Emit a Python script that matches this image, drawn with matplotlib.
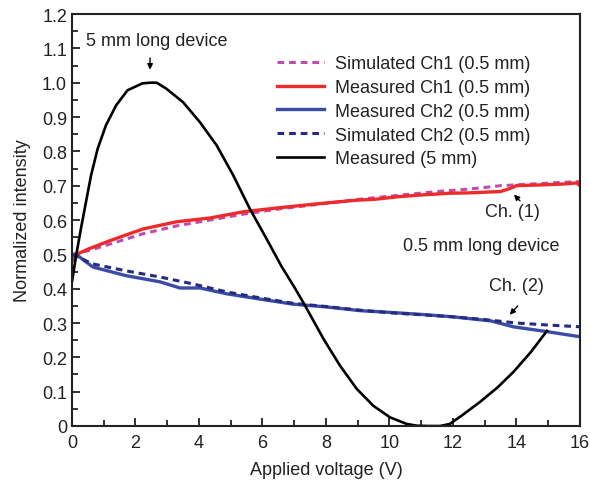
import matplotlib
matplotlib.use("Agg")
import matplotlib.pyplot as plt
from matplotlib.ticker import MultipleLocator

plt.rcParams['font.family'] = ['Liberation Sans', 'DejaVu Sans']

# Measured 5 mm device (black)
x_5mm = [0, 0.13, 0.28, 0.44, 0.6, 0.81, 1.07, 1.39, 1.75, 2.22, 2.46, 2.67, 2.98, 3.5, 4.03, 4.56, 5.08, 5.6, 6.1, 6.6, 7.0, 7.34, 7.92, 8.44, 8.97, 9.49, 10.02, 10.54, 10.85, 11.2, 11.6, 11.9, 12.3, 12.85, 13.4, 13.9, 14.45, 14.96]
y_5mm = [0.42, 0.496, 0.574, 0.652, 0.73, 0.808, 0.876, 0.934, 0.978, 0.998, 1.0, 1.0, 0.982, 0.943, 0.885, 0.817, 0.73, 0.633, 0.55, 0.465, 0.405, 0.351, 0.254, 0.176, 0.108, 0.059, 0.025, 0.006, 0.001, 0.0, 0.0, 0.006, 0.032, 0.07, 0.112, 0.157, 0.215, 0.277]

# Measured Ch1 (0.5 mm)
x_m1 = [0, 0.15, 0.5, 1.2, 2.24, 3.3, 4.35, 5.4, 6.45, 7.7, 9.0, 9.5, 10.3, 11.0, 11.9, 12.5, 13.5, 13.8, 14.0, 15.0, 15.5, 15.9, 16]
y_m1 = [0.48, 0.50, 0.515, 0.54, 0.574, 0.595, 0.606, 0.624, 0.635, 0.647, 0.658, 0.66, 0.668, 0.673, 0.678, 0.679, 0.683, 0.692, 0.70, 0.703, 0.705, 0.708, 0.70]

# Simulated Ch1 (0.5 mm)
x_s1 = [0, 0.5, 1.2, 2.24, 3.3, 4.35, 5.4, 6.5, 7.7, 9.0, 10.3, 11.5, 12.5, 13.5, 14.5, 15.5, 16]
y_s1 = [0.50, 0.51, 0.53, 0.56, 0.583, 0.60, 0.617, 0.632, 0.645, 0.66, 0.672, 0.683, 0.69, 0.70, 0.705, 0.71, 0.712]

# Measured Ch2 (0.5 mm)
x_m2 = [0, 0.2, 0.66, 1.7, 2.77, 3.4, 4.03, 4.88, 5.9, 6.96, 8.0, 9.07, 10.0, 11.0, 12.0, 13.2, 13.9, 14.95, 16]
y_m2 = [0.50, 0.495, 0.463, 0.438, 0.42, 0.402, 0.402, 0.385, 0.37, 0.355, 0.347, 0.336, 0.331, 0.325, 0.318, 0.306, 0.289, 0.275, 0.26]

# Simulated Ch2 (0.5 mm)
x_s2 = [0, 0.66, 1.7, 2.77, 3.8, 4.9, 6.0, 7.0, 8.0, 9.0, 10.0, 11.0, 12.0, 13.0, 14.0, 15.0, 16]
y_s2 = [0.50, 0.472, 0.452, 0.434, 0.414, 0.39, 0.372, 0.357, 0.348, 0.338, 0.33, 0.324, 0.318, 0.31, 0.30, 0.294, 0.289]

x_ticks = [0, 2, 4, 6, 8, 10, 12, 14, 16]
y_ticks = [0, 0.1, 0.2, 0.3, 0.4, 0.5, 0.6, 0.7, 0.8, 0.9, 1.0, 1.1, 1.2]
y_ticklabels = ['0', '0.1', '0.2', '0.3', '0.4', '0.5', '0.6', '0.7', '0.8', '0.9', '1.0', '1.1', '1.2']

fig = plt.figure(figsize=(5.9, 4.85), dpi=100)
ax = fig.add_axes([0.122, 0.1196, 0.861, 0.8494])

FS = 13
l_s1, = ax.plot(x_s1, y_s1, color='#c04cb0', lw=2.2, ls=(0, (2.2, 1.6)), label='Simulated Ch1 (0.5 mm)')
l_m1, = ax.plot(x_m1, y_m1, color='#ee2b2b', lw=2.4, label='Measured Ch1 (0.5 mm)')
l_m2, = ax.plot(x_m2, y_m2, color='#3a4ca6', lw=2.4, label='Measured Ch2 (0.5 mm)')
l_s2, = ax.plot(x_s2, y_s2, color='#262a80', lw=2.2, ls=(0, (2.2, 1.6)), label='Simulated Ch2 (0.5 mm)')
l_5, = ax.plot(x_5mm, y_5mm, color='black', lw=1.9, label='Measured (5 mm)')

ax.set_xlim(0, 16)
ax.set_ylim(0, 1.2)
ax.set_xticks(x_ticks)
ax.set_yticks(y_ticks)
ax.set_yticklabels(y_ticklabels)
ax.xaxis.set_minor_locator(MultipleLocator(1))
ax.yaxis.set_minor_locator(MultipleLocator(0.05))
ax.tick_params(which='both', direction='in', top=False, right=False, labelsize=FS, colors='#222222', width=1.3)
ax.tick_params(which='major', length=6)
ax.tick_params(which='minor', length=4)
ax.tick_params(axis='x', pad=6)
for s in ax.spines.values():
    s.set_linewidth(1.5)
    s.set_color('#222222')

ax.set_xlabel('Applied voltage (V)', fontsize=FS, color='#222222', labelpad=7)
ax.set_ylabel('Normalized intensity', fontsize=FS, color='#222222', labelpad=8)

leg = ax.legend(handles=[l_s1, l_m1, l_m2, l_s2, l_5], loc='upper left',
                bbox_to_anchor=(0.39, 0.918), frameon=False, fontsize=FS,
                handlelength=2.6, handletextpad=0.6, labelspacing=0.38,
                borderaxespad=0)
for t in leg.get_texts():
    t.set_color('#222222')

ax.text(2.67, 1.123, '5 mm long device', fontsize=FS, ha='center', va='center', color='#222222')
ax.annotate('', xy=(2.46, 1.03), xytext=(2.46, 1.08),
            arrowprops=dict(arrowstyle='-|>', color='black', lw=1.0, mutation_scale=8))
ax.text(13.86, 0.624, 'Ch. (1)', fontsize=FS, ha='center', va='center', color='#222222')
ax.annotate('', xy=(13.86, 0.68), xytext=(14.17, 0.65),
            arrowprops=dict(arrowstyle='-|>', color='black', lw=1.0, mutation_scale=8))
ax.text(12.9, 0.525, '0.5 mm long device', fontsize=FS, ha='center', va='center', color='#222222')
ax.text(14.0, 0.408, 'Ch. (2)', fontsize=FS, ha='center', va='center', color='#222222')
ax.annotate('', xy=(13.73, 0.318), xytext=(14.1, 0.356),
            arrowprops=dict(arrowstyle='-|>', color='black', lw=1.0, mutation_scale=8))

fig.savefig('out.png', dpi=100)
